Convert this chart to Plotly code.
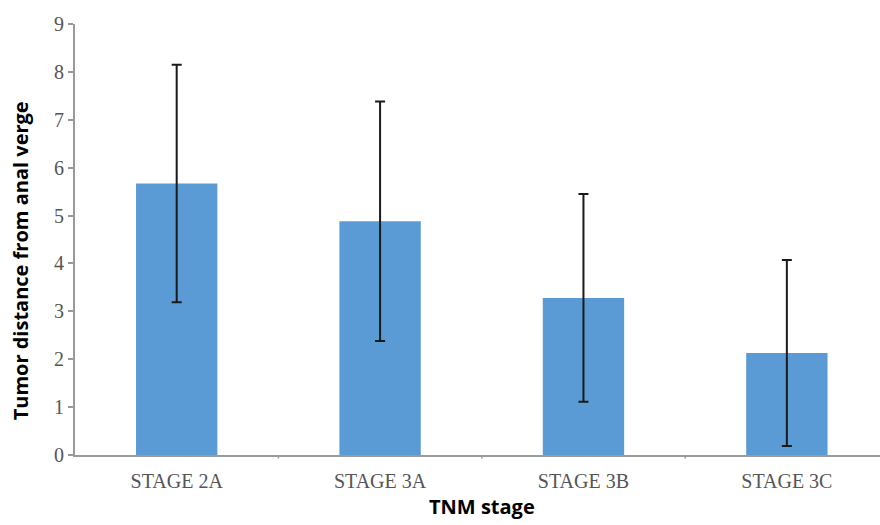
import plotly.graph_objects as go

categories = ["STAGE 2A", "STAGE 3A", "STAGE 3B", "STAGE 3C"]
means = [5.67, 4.88, 3.28, 2.13]
sds = [2.48, 2.50, 2.17, 1.94]
y_ticks = [0, 1, 2, 3, 4, 5, 6, 7, 8, 9]

fig = go.Figure()
fig.add_trace(go.Bar(
    x=list(range(len(categories))),
    y=means,
    marker=dict(color="#5b9bd5", line=dict(width=0)),
    error_y=dict(type="data", array=sds, visible=True, color="#1a1a1a",
                 thickness=2, width=5),
    width=0.4,
))

fig.update_layout(
    width=880, height=525,
    margin=dict(l=75, r=0, t=24, b=70),
    plot_bgcolor="white", paper_bgcolor="white",
    showlegend=False,
)
fig.update_xaxes(
    tickmode="array", tickvals=list(range(len(categories))), ticktext=categories,
    range=[-0.5, 3.458],
    showline=True, linecolor="#9a9a9a", linewidth=2,
    ticks="", showgrid=False, zeroline=False,
    ticklabelstandoff=7,
    tickfont=dict(family="Liberation Serif", size=20, color="#555555"),
)
fig.update_yaxes(
    range=[0, 9], tickvals=y_ticks,
    showline=True, linecolor="#9a9a9a", linewidth=2,
    ticks="outside", ticklen=5, tickcolor="#9a9a9a", tickwidth=2,
    showgrid=False, zeroline=False,
    ticklabelstandoff=0,
    tickfont=dict(family="Liberation Serif", size=20, color="#555555"),
)
fig.add_annotation(text="<b>TNM stage</b>", xref="paper", yref="paper",
                   x=0.505, y=-0.12, xanchor="center", yanchor="middle", showarrow=False,
                   font=dict(family="Open Sans", size=20, color="black"))
fig.add_annotation(text="<b>Tumor distance from anal verge</b>", xref="paper", yref="paper",
                   x=-0.068, y=0.45, xanchor="center", yanchor="middle", showarrow=False,
                   textangle=-90,
                   font=dict(family="Open Sans", size=20, color="black"))
# small ticks at category boundaries
for b in [0.5, 1.5, 2.5]:
    fig.add_shape(type="line", xref="x", yref="paper", x0=b, x1=b, y0=0, y1=-0.008,
                  line=dict(color="#9a9a9a", width=1.5))

fig.write_html("out.html")
